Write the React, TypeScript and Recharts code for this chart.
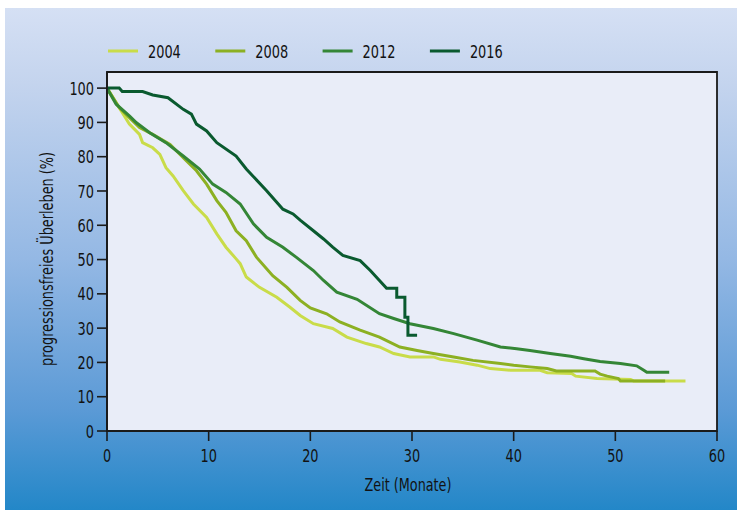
import React from 'react';
import { LineChart, Line, XAxis, YAxis, CartesianGrid, Legend, ReferenceArea } from 'recharts';

const years = ['2004', '2008', '2012', '2016'];
const lineColors = ['#c9dc49', '#8cb022', '#348636', '#0a5a2f'];

const months2004 = [0, 1.6, 2.2, 3.2, 3.5, 4.5, 5.2, 5.8, 6.5, 7.5, 8.5, 9.8, 10.8, 11.7, 12.7, 13.1, 13.7, 15.0, 16.7, 18.0, 19.0, 20.3, 22.2, 23.6, 25.5, 26.8, 28.2, 29.8, 32.1, 32.8, 34.7, 36.4, 37.7, 39.7, 42.6, 43.3, 45.7, 46.1, 48.2, 51.5, 51.8, 56.9];
const surv2004 = [100, 92.4, 89.5, 86.5, 84.1, 82.6, 80.7, 76.8, 74.4, 70.1, 66.2, 62.3, 57.5, 53.6, 50.2, 48.8, 44.9, 41.9, 39.0, 36.1, 33.7, 31.3, 29.9, 27.4, 25.5, 24.5, 22.6, 21.6, 21.6, 20.9, 20.1, 19.2, 18.2, 17.7, 17.7, 17.0, 16.8, 16.0, 15.3, 15.0, 14.6, 14.6];

const months2008 = [0, 1.2, 2.2, 3.2, 4.5, 6.2, 7.8, 8.8, 9.8, 10.8, 11.7, 12.7, 13.7, 14.7, 16.3, 17.7, 19.0, 20.0, 21.6, 22.9, 24.9, 26.8, 28.8, 30.5, 32.1, 34.1, 36.0, 38.7, 40.0, 41.6, 43.3, 44.2, 48.0, 48.5, 49.2, 50.3, 50.5, 54.9];
const surv2008 = [100, 94.3, 91.4, 88.5, 86.5, 83.6, 78.8, 75.9, 72.0, 67.2, 63.8, 58.4, 55.5, 50.7, 45.3, 41.9, 38.1, 35.9, 34.2, 31.8, 29.4, 27.4, 24.5, 23.5, 22.6, 21.6, 20.6, 19.7, 19.2, 18.7, 18.2, 17.5, 17.5, 16.6, 16.0, 15.3, 14.6, 14.6];

const months2012 = [0, 0.9, 2.2, 2.9, 4.2, 5.8, 7.5, 9.1, 10.4, 11.7, 13.1, 14.4, 15.7, 17.3, 18.6, 20.3, 21.3, 22.6, 24.6, 26.8, 28.2, 29.8, 32.1, 34.1, 36.4, 38.7, 40.3, 41.6, 43.6, 45.6, 46.9, 48.5, 50.5, 52.1, 52.8, 53.1, 55.3];
const surv2012 = [100, 95.3, 91.9, 89.9, 87.0, 84.1, 80.2, 76.4, 72.0, 69.6, 66.2, 60.4, 56.5, 53.6, 50.7, 46.8, 43.9, 40.5, 38.4, 34.2, 32.8, 31.3, 29.9, 28.4, 26.5, 24.5, 24.0, 23.5, 22.6, 21.8, 21.1, 20.3, 19.7, 19.0, 17.7, 17.1, 17.1];

const months2016 = [0, 1.2, 1.5, 3.5, 4.5, 6.0, 7.5, 8.3, 8.8, 9.8, 10.8, 12.7, 13.7, 15.7, 17.3, 18.3, 19.0, 20.3, 21.3, 22.2, 23.2, 24.9, 25.9, 26.8, 27.5, 28.5, 28.5, 29.3, 29.3, 29.6, 29.6, 30.5];
const surv2016 = [100, 100, 99, 99, 98, 97.2, 93.8, 92.4, 89.5, 87.5, 84.1, 80.2, 76.4, 70.1, 64.7, 63.3, 61.5, 58.4, 56.0, 53.6, 51.2, 49.7, 46.8, 43.9, 41.6, 41.6, 39.0, 39.0, 33.2, 33.2, 27.9, 27.9];

const xTicks = [0, 10, 20, 30, 40, 50, 60];
const yTicks = [0, 10, 20, 30, 40, 50, 60, 70, 80, 90, 100];

const xTitle = 'Zeit (Monate)';
const yTitle = 'progressionsfreies Überleben (%)';

const FONT = '"DejaVu Sans Condensed", "Liberation Sans", sans-serif';
const TEXT = '#121212';
const DIGIT_W = 8.2;

const toSeries = (t: number[], s: number[]) => t.map((x, i) => ({ x, y: s[i] }));

const series = [
  toSeries(months2004, surv2004),
  toSeries(months2008, surv2008),
  toSeries(months2012, surv2012),
  toSeries(months2016, surv2016),
];

const NarrowText = (p: any) => {
  const { x, y, children, width, anchor = 'middle', size = 18, transform } = p;
  return (
    <text
      x={x}
      y={y}
      textAnchor={anchor}
      fill={TEXT}
      fontSize={size}
      fontFamily={FONT}
      textLength={width}
      lengthAdjust="spacingAndGlyphs"
      transform={transform}
    >
      {children}
    </text>
  );
};

const YTick = (props: any) => {
  const { x, y, payload } = props;
  const s = String(payload.value);
  return <NarrowText x={x} y={y + 6.6} anchor="end" width={s.length * DIGIT_W}>{s}</NarrowText>;
};

const XTick = (props: any) => {
  const { x, y, payload } = props;
  const s = String(payload.value);
  return <NarrowText x={x} y={y + 21} anchor="middle" width={s.length * DIGIT_W}>{s}</NarrowText>;
};

const LegendContent = (props: any) => {
  const payload = props.payload || [];
  return (
    <svg width={737} height={24} style={{ display: 'block' }}>
      {payload.map((p: any, i: number) => {
        const left = 108 + i * 107.3;
        return (
          <g key={p.value}>
            <rect x={left} y={10.5} width={30} height={3} fill={p.color} />
            <NarrowText x={left + 40} y={18.6} anchor="start" width={String(p.value).length * DIGIT_W}>
              {p.value}
            </NarrowText>
          </g>
        );
      })}
    </svg>
  );
};

export default function App() {
  return (
    <div style={{ position: 'absolute', left: 0, top: 0, width: 737, height: 510, background: '#ffffff', overflow: 'hidden' }}>
      <div
        style={{
          position: 'absolute',
          left: 5,
          top: 8,
          right: 0,
          bottom: 0,
          background: 'linear-gradient(to bottom, #d5e0f4 0%, #c4d4ee 15%, #94b8e4 50%, #5b9ad6 80%, #2387c8 100%)',
        }}
      />
      <div style={{ position: 'absolute', left: 0, top: 0 }}>
        <LineChart width={737} height={510} margin={{ top: 72, right: 20, bottom: 29, left: 0 }}>
          <CartesianGrid horizontal={false} vertical={false} fill="#e9edf8" fillOpacity={1} />
          <XAxis
            dataKey="x"
            type="number"
            domain={[0, 60]}
            ticks={xTicks}
            allowDataOverflow
            height={50}
            tickSize={10}
            tickMargin={0}
            axisLine={{ stroke: '#1a1a1a', strokeWidth: 1.8 }}
            tickLine={{ stroke: '#1a1a1a', strokeWidth: 1.6 }}
            tick={<XTick />}
            label={() => (
              <NarrowText x={408} y={491} anchor="middle" width={87}>
                {xTitle}
              </NarrowText>
            )}
          />
          <YAxis
            type="number"
            domain={[0, 104.7]}
            ticks={yTicks}
            allowDataOverflow
            width={107}
            tickSize={10}
            tickMargin={3}
            axisLine={{ stroke: '#1a1a1a', strokeWidth: 1.8 }}
            tickLine={{ stroke: '#1a1a1a', strokeWidth: 1.6 }}
            tick={<YTick />}
            label={() => (
              <NarrowText x={47} y={265} anchor="middle" width={214} transform="rotate(-90, 47, 259)">
                {yTitle}
              </NarrowText>
            )}
          />
          <Legend
            layout="horizontal"
            verticalAlign="middle"
            align="center"
            wrapperStyle={{ top: 39, left: 0, width: 737 }}
            content={<LegendContent />}
          />
          {series.map((d, i) => (
            <Line
              key={years[i]}
              data={d}
              dataKey="y"
              name={years[i]}
              type="linear"
              stroke={lineColors[i]}
              strokeWidth={3}
              strokeLinejoin="miter"
              dot={false}
              activeDot={false}
              isAnimationActive={false}
            />
          ))}
          <ReferenceArea x1={0} x2={60} y1={0} y2={104.7} fill="none" stroke="#1a1a1a" strokeWidth={1.8} ifOverflow="visible" />
        </LineChart>
      </div>
    </div>
  );
}
